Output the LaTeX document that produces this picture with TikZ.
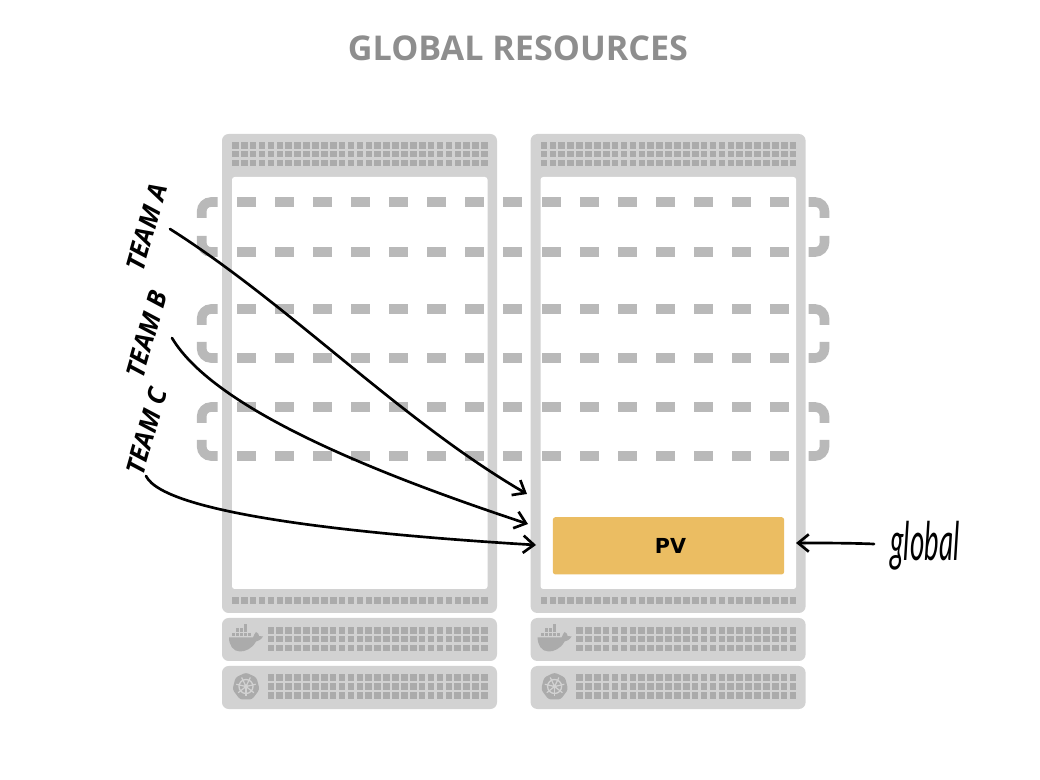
\documentclass[tikz,border=0pt]{standalone}
\usepackage{fontspec}
\usetikzlibrary{arrows.meta,positioning}
\setmainfont{Open Sans}
\newfontfamily\pvfont{DejaVu Sans}
\newfontfamily\handfont{Lato}
\definecolor{rackgray}{HTML}{D2D2D2}
\definecolor{slotgray}{HTML}{ABABAB}
\definecolor{dashgray}{HTML}{B9B9B9}
\definecolor{titlegray}{HTML}{8E8E8E}
\definecolor{pvyellow}{HTML}{EBBD62}
\tikzset{
	rack/.style={fill=rackgray, rounded corners=5},
	hole/.style={fill=white, rounded corners=2},
	slot/.style={fill=slotgray},
	band/.style={draw=dashgray, line width=7.2pt},
	team/.style={font=\bfseries\itshape\fontsize{19.3}{22}\selectfont, rotate=74},
	pointer/.style={draw=black, line width=2pt, line cap=round, -{Straight Barb[length=8pt,width=13pt,line width=2pt]}}
}
% a block of square slots
\newcommand{\slots}[4]{
	\foreach \c in {1,...,#3}
		\foreach \r in {1,...,#4}
			\fill[slot] ({#1+(\c-1)*8.9},{#2+(\r-1)*8.9}) rectangle ++(6.6,6.6);
}
\begin{document}
\begin{tikzpicture}[x=0.75pt,y=-0.75pt]
	\useasboundingbox (0,0) rectangle (1040,780);

	\node (title) at (518,48.5) [text=titlegray, font=\bfseries\fontsize{25.6}{29}\selectfont] {GLOBAL RESOURCES};

	% the two racks
	\foreach \x in {0,308.6} {
		\begin{scope}[xshift=\x*0.75pt]
			\fill[rack] (222,134) rectangle (497,613);
			\fill[hole] (232,177) rectangle (487.5,589);
			\fill[rack] (222,618) rectangle (497,661);
			\fill[rack] (222,666) rectangle (497,709);
			\slots{232}{142}{29}{3}
			\slots{232}{597}{29}{1}
			\slots{267.5}{627}{25}{3}
			\slots{267.5}{674.5}{25}{3}
			% docker whale
			\fill[slot] (229,637.5) -- (253,637.5)
				.. controls (254,635) and (255,633) .. (256,632)
				.. controls (258,633) and (259,634) .. (259,636)
				-- (263,636.5)
				.. controls (261,640) and (258,641) .. (256,641.5)
				.. controls (252,649) and (245,651.5) .. (240,651.5)
				.. controls (233,651.5) and (229,645) .. (229,637.5) -- cycle;
			\foreach \cx/\cy in {232/633,236/633,240/633,244/633,248/633,236/628.5,240/628.5,244/628.5,244/624.5}
				\fill[slot] (\cx,\cy) rectangle ++(3.3,3.5);
			% kubernetes wheel
			\fill[slot, rounded corners=2] (246,672.5) -- (256.5,677.5) -- (259.5,689.5) -- (252,699.5) -- (240,699.5) -- (232.5,689.5) -- (235.5,677.5) -- cycle;
			\draw[rackgray, line width=1pt] (246,686.5) circle (7);
			\foreach \a in {90,141.4,...,400}
				\draw[rackgray, line width=.9pt] (246,686.5) -- ++(\a:10);
			\fill[rackgray] (246,686.5) circle (2);
		\end{scope}
	}

	% dashed bands across the racks
	\foreach \yt/\yb in {202/252,309/358,407/456} {
		\foreach \k in {0,...,14} {
			\fill[dashgray] ({236.7+\k*38.1},\yt-4.8) rectangle ++(19,9.6);
			\fill[dashgray] ({236.7+\k*38.1},\yb-4.8) rectangle ++(19,9.6);
		}
		\draw[band, rounded corners=7] (217.5,\yt) -- (201.7,\yt) -- (201.7,\yt+16);
		\draw[band, rounded corners=7] (217.5,\yb) -- (201.7,\yb) -- (201.7,\yb-16);
		\draw[band, rounded corners=7] (808.5,\yt) -- (824.5,\yt) -- (824.5,\yt+16);
		\draw[band, rounded corners=7] (808.5,\yb) -- (824.5,\yb) -- (824.5,\yb-16);
	}

	\node (pv) at (668.5,545.8) [fill=pvyellow, rounded corners=2, minimum width=173.5pt, minimum height=43pt, inner sep=0pt, font=\pvfont\bfseries\fontsize{15.5}{18}\selectfont] {\hspace{3pt}PV};

	\node (teamA) at (146.5,227.5) [team] {TEAM A};
	\node (teamB) at (146.5,334) [team] {TEAM B};
	\node (teamC) at (146.5,431.5) [team] {TEAM C};
	\node (global) at (925,546) [xscale=.52, transform shape, font=\handfont\itshape\fontsize{40}{44}\selectfont] {global};

	\coordinate (fromA) at (170,229);
	\coordinate (fromB) at (172,338);
	\coordinate (fromC) at (146,476);
	\coordinate (fromG) at (874,544);
	\coordinate (toA) at (527,494);
	\coordinate (toB) at (528,524);
	\coordinate (toC) at (536,545);
	\coordinate (toG) at (796,543);

	\draw[pointer] (fromA) .. controls (290,305) and (400,420) .. (toA);
	\draw[pointer] (fromB) .. controls (215,410) and (380,475) .. (toB);
	\draw[pointer] (fromC) .. controls (165,515) and (370,535) .. (toC);
	\draw[pointer] (fromG) .. controls (850,543) and (825,543) .. (toG);
\end{tikzpicture}
\end{document}
